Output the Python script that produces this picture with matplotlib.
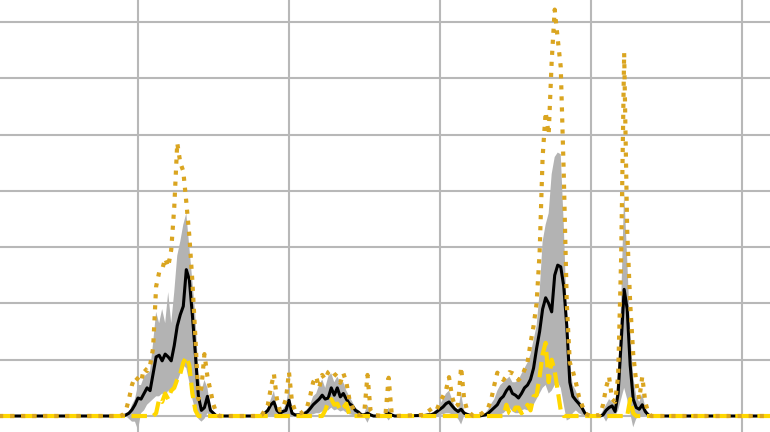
import matplotlib
matplotlib.use('Agg')
import matplotlib.pyplot as plt

# sample positions (grid lines every 50 samples)
x = [0, 44, 45, 46, 47, 48, 49, 50, 51, 52, 53, 54, 55, 56, 57, 58, 59, 60,
     61, 62, 63, 64, 65, 66, 67, 68, 69, 70, 71, 72, 73, 74, 75, 76, 77,
     90, 91, 92, 93, 94, 95, 96, 97, 98, 99, 100, 101, 102, 103, 104, 105,
     106, 107, 108, 109, 110, 111, 112, 113, 114, 115, 116, 117, 118, 119,
     120, 121, 122, 123, 124, 125, 126, 127, 128, 131, 132, 133, 134, 135,
     145, 146, 147, 148, 149, 150, 151, 152, 153, 154, 155, 156, 157, 158,
     159, 160, 161, 162, 163, 164, 165, 166, 167, 168, 169, 170, 171, 172,
     173, 174, 175, 176, 177, 178, 179, 180, 181, 182, 183, 184, 185, 186,
     187, 188, 189, 190, 191, 192, 193, 194, 195, 196, 197, 198, 199, 200,
     203, 204, 205, 206, 207, 208, 209, 210, 211, 212, 213, 214, 215, 216,
     217, 218, 219, 220, 262]

mean = [0, 0, 0, 0.02, 0.05, 0.11, 0.2, 0.32, 0.3, 0.4, 0.5, 0.45, 0.75, 1.05,
        1.08, 0.98, 1.1, 1.05, 0.98, 1.25, 1.6, 1.8, 1.95, 2.6, 2.42, 1.8, 1.1,
        0.35, 0.1, 0.15, 0.35, 0.1, 0.05, 0, 0,
        0, 0.02, 0.05, 0.1, 0.2, 0.25, 0.1, 0.05, 0.08, 0.1, 0.28, 0.05, 0.02,
        0.02, 0.02, 0.04, 0.07, 0.13, 0.2, 0.25, 0.3, 0.37, 0.3, 0.32, 0.5,
        0.37, 0.5, 0.34, 0.4, 0.3, 0.22, 0.18, 0.1, 0.07, 0.02, 0.02, 0.05,
        0.02, 0, 0, 0.02, 0.05, 0.02, 0,
        0.01, 0.02, 0.02, 0.04, 0.08, 0.12, 0.16, 0.22, 0.25, 0.18, 0.12, 0.08,
        0.12, 0.05, 0.03, 0.01, 0, 0, 0, 0.01, 0.02, 0.05, 0.1, 0.15, 0.2, 0.3,
        0.35, 0.45, 0.52, 0.4, 0.37, 0.32, 0.4, 0.5, 0.55, 0.65, 0.85, 1.2,
        1.5, 1.9, 2.1, 2.0, 1.85, 2.5, 2.68, 2.65, 2.3, 1.6, 0.6, 0.35, 0.28,
        0.22, 0.15, 0.05, 0.02, 0,
        0, 0.02, 0.1, 0.15, 0.18, 0.08, 0.4, 1.3, 2.25, 1.9, 0.9, 0.3, 0.15,
        0.12, 0.2, 0.08, 0.02, 0, 0]

band_low = [0, 0, 0, 0, -0.05, -0.1, -0.1, -0.25, 0.05, 0.1, 0.2, 0.25, 0.3,
            0.35, 0.35, 0.4, 0.35, 0.45, 0.4, 0.5, 0.6, 0.75, 0.9, 0.85, 0.6,
            0.3, 0.1, -0.05, -0.1, -0.05, 0.05, 0, 0, 0, 0,
            0, 0, 0, 0, 0.02, -0.02, 0, 0, 0, 0, 0, 0, 0, 0, 0, 0, 0, 0.02,
            0.03, 0.05, 0.05, 0.08, 0.1, 0.1, 0.15, 0.1, 0.12, 0.08, 0.1, 0.06,
            0.03, 0.02, 0, 0, 0, -0.02, -0.12, 0, 0, 0, 0, -0.08, 0, 0,
            0, 0, 0, 0, 0, 0.02, 0.03, 0.05, 0.05, 0.03, 0, -0.05, -0.15, 0, 0,
            0, 0, 0, 0, 0, 0, 0, 0, 0.02, 0.03, 0.03, 0.05, 0.1, 0.15, 0.08,
            0.05, 0.05, 0.1, 0.12, 0.1, 0.15, 0.2, 0.3, 0.4, 0.5, 0.55, 0.4,
            0.45, 0.55, 0.6, 0.5, 0.2, -0.08, -0.05, 0.05, 0.1, 0.05, 0.02, 0,
            0, 0,
            0, 0, -0.1, 0, 0, 0, 0.1, 0.3, 0.5, 0.3, 0.05, -0.2, -0.05, 0, 0, 0,
            0, 0, 0]

band_high = [0, 0, 0, 0.02, 0.05, 0.2, 0.3, 0.55, 0.55, 0.7, 0.75, 0.8, 1.3,
             1.85, 1.65, 1.9, 1.65, 2.2, 1.65, 2.2, 2.85, 3.1, 3.4, 3.6, 3.0,
             2.4, 1.8, 0.76, 0.45, 0.64, 0.5, 0.15, 0.05, 0, 0,
             0, 0.03, 0.08, 0.15, 0.3, 0.45, 0.15, 0.08, 0.12, 0.2, 0.5, 0.1,
             0.03, 0.03, 0.05, 0.08, 0.12, 0.2, 0.35, 0.4, 0.55, 0.65, 0.5, 0.7,
             0.76, 0.6, 0.7, 0.6, 0.6, 0.45, 0.35, 0.25, 0.15, 0.1, 0.03, 0.05,
             0.2, 0.03, 0, 0, 0.03, 0.15, 0.03, 0,
             0.02, 0.04, 0.05, 0.08, 0.12, 0.2, 0.3, 0.4, 0.45, 0.3, 0.15, 0.12,
             0.4, 0.1, 0.05, 0.02, 0, 0, 0, 0.02, 0.05, 0.12, 0.22, 0.3, 0.45,
             0.55, 0.6, 0.65, 0.7, 0.6, 0.6, 0.64, 0.75, 0.85, 0.95, 1.1, 1.35,
             1.6, 2.2, 3.1, 3.4, 3.6, 4.3, 4.6, 4.68, 4.65, 3.4, 1.8, 0.9, 0.55,
             0.45, 0.3, 0.2, 0.08, 0.03, 0,
             0, 0.1, 0.2, 0.3, 0.25, 0.2, 0.8, 2.0, 4.0, 2.8, 1.5, 0.7, 0.35,
             0.25, 0.4, 0.15, 0.03, 0, 0]

upper = [0, 0, 0.02, 0.1, 0.3, 0.55, 0.7, 0.65, 0.6, 0.85, 0.8, 0.9, 1.2, 2.3,
         2.55, 2.6, 2.8, 2.65, 2.95, 3.7, 4.85, 4.5, 4.35, 3.8, 3.2, 2.4, 1.4,
         0.3, 0.5, 1.1, 0.7, 0.45, 0.2, 0.05, 0,
         0, 0.02, 0.1, 0.2, 0.5, 0.75, 0.3, 0.1, 0.15, 0.3, 0.78, 0.25, 0.1,
         0.05, 0.05, 0.1, 0.16, 0.35, 0.6, 0.7, 0.5, 0.73, 0.65, 0.78, 0.82,
         0.75, 0.7, 0.59, 0.76, 0.6, 0.3, 0.16, 0.05, 0.02, 0.02, 0.1, 0.73,
         0.1, 0.02, 0, 0.05, 0.68, 0.05, 0,
         0.02, 0.08, 0.12, 0.16, 0.12, 0.25, 0.35, 0.46, 0.69, 0.35, 0.16, 0.2,
         0.87, 0.3, 0.1, 0.05, 0, 0, 0.02, 0.05, 0.1, 0.15, 0.3, 0.55, 0.77,
         0.7, 0.64, 0.7, 0.78, 0.76, 0.73, 0.64, 0.7, 0.82, 0.95, 1.3, 1.6,
         2.0, 2.9, 4.6, 5.4, 5.0, 6.3, 7.22, 6.7, 6.2, 4.3, 2.0, 0.95, 0.8,
         0.6, 0.35, 0.2, 0.05, 0.02, 0,
         0.02, 0.2, 0.5, 0.7, 0.3, 0.25, 0.7, 2.8, 6.45, 3.3, 2.0, 1.1, 0.6,
         0.3, 0.7, 0.25, 0.05, 0, 0]

lower = [0, 0, 0, 0, 0, 0, 0, 0, 0, 0, 0, 0, 0, 0.05, 0.3, 0.25, 0.4, 0.3,
         0.45, 0.5, 0.65, 0.75, 0.95, 1.05, 0.9, 0.4, 0.1, 0, 0, 0, 0, 0, 0,
         0, 0,
         0, 0, 0, 0, 0, 0, 0, 0, 0, 0, 0, 0, 0, 0, 0, 0, 0, 0, 0, 0, 0, 0,
         0.1, 0.25, 0.3, 0.2, 0.22, 0.1, 0.15, 0.22, 0.02, 0, 0, 0, 0, 0, 0,
         0, 0, 0, 0, 0, 0, 0,
         0, 0, 0, 0, 0, 0, 0, 0, 0, 0, 0, 0, 0, 0, 0, 0, 0, 0, 0, 0, 0, 0, 0,
         0, 0, 0, 0, 0.2, 0.05, 0.02, 0.15, 0.15, 0.05, 0.1, 0.2, 0.1, 0.35,
         0.37, 0.7, 1.1, 1.3, 0.6, 1.0, 0.8, 0.45, 0.1, 0, 0, 0, 0, 0, 0, 0,
         0, 0, 0,
         0, 0, 0, 0, 0, 0, 0, 0, 0, 0, 0.3, 0.05, 0, 0, 0, 0, 0, 0, 0]

fig = plt.figure(figsize=(7.7, 4.32), dpi=100)
ax = fig.add_axes([0, 0, 1, 1])

ax.fill_between(x, band_low, band_high, color='#b3b3b3', linewidth=0, zorder=2)
ax.plot(x, mean, color='black', linewidth=2.2, zorder=3)
ax.plot(x, lower, color='#FFD700', linewidth=3, linestyle='--', zorder=4)
ax.plot(x, upper, color='#DAA520', linewidth=3, linestyle=':', zorder=5)

ax.set_xlim(4.3, 259.3)
ax.set_ylim(-0.284, 7.39)
ax.set_xticks([50, 100, 150, 200, 250])
ax.set_yticks([0, 1, 2, 3, 4, 5, 6, 7])
ax.grid(True, color='#b8b8b8', linewidth=1.5)
ax.set_axisbelow(True)
ax.tick_params(length=0, labelbottom=False, labelleft=False)
for s in ax.spines.values():
    s.set_visible(False)

fig.savefig('out.png', dpi=100)
